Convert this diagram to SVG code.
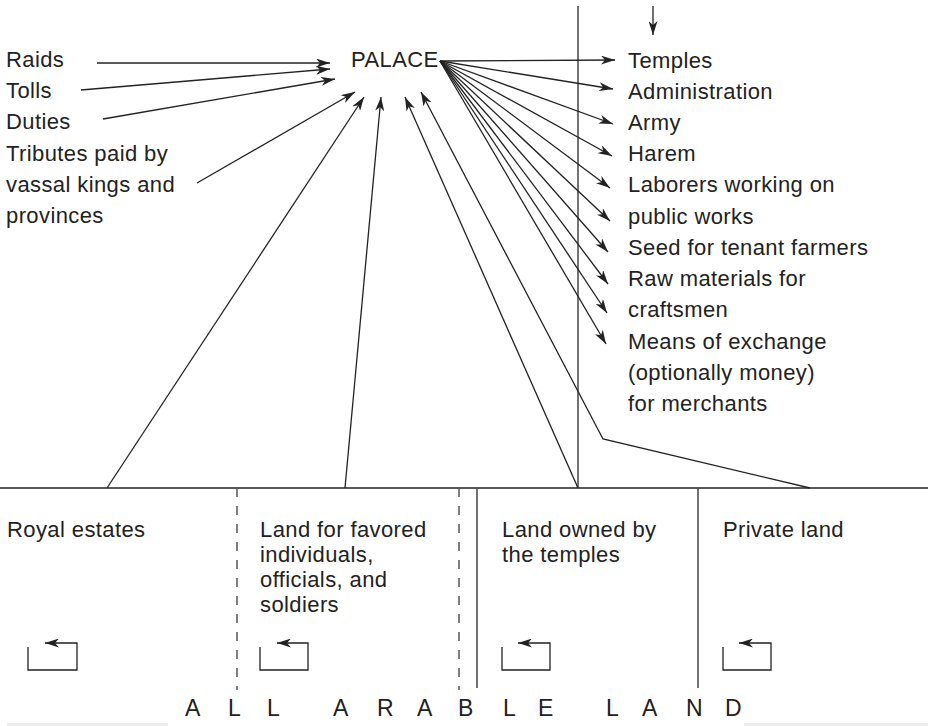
<svg xmlns="http://www.w3.org/2000/svg" width="928" height="726" viewBox="0 0 928 726">
<style>
text{font-family:"Liberation Sans",Arial,sans-serif;font-size:22px;fill:#222;letter-spacing:0.4px}
.ln{stroke:#222;stroke-width:1.3;fill:none}
.ar{marker-end:url(#ah)}
.dv{stroke:#444;stroke-width:1.5;fill:none}
.ds{stroke:#555;stroke-width:1.5;stroke-dasharray:9 9;fill:none}
.big{font-size:23px;letter-spacing:0}
</style>
<defs>
<marker id="ah" viewBox="0 0 14 9" markerWidth="14" markerHeight="9" refX="14" refY="4.5" orient="auto" markerUnits="userSpaceOnUse">
<path d="M0,0 L14,4.5 L0,9 L4,4.5 Z" fill="#222"/>
</marker>
</defs>
<rect width="928" height="726" fill="#fff"/>
<rect x="7" y="723" width="161" height="3" fill="#ececec"/>
<rect x="744" y="723" width="184" height="3" fill="#ececec"/>

<g id="frame">
<line class="dv" x1="578" y1="6" x2="578" y2="488"/>
<line class="ln" x1="0" y1="488" x2="928" y2="488"/>
<line class="ds" x1="237" y1="488" x2="237" y2="690"/>
<line class="ds" x1="459" y1="488" x2="459" y2="690"/>
<line class="dv" x1="477" y1="488" x2="477" y2="688"/>
<line class="dv" x1="698" y1="488" x2="698" y2="688"/>
</g>

<g id="palace"><text x="351" y="67">PALACE</text></g>

<g id="sources">
<text x="6" y="67">Raids</text>
<text x="6" y="98">Tolls</text>
<text x="6" y="129">Duties</text>
<text x="6" y="161">Tributes paid by</text>
<text x="6" y="192">vassal kings and</text>
<text x="6" y="223">provinces</text>
</g>

<g id="uses">
<text x="628" y="68">Temples</text>
<text x="628" y="99">Administration</text>
<text x="628" y="130">Army</text>
<text x="628" y="161">Harem</text>
<text x="628" y="192">Laborers working on</text>
<text x="628" y="224">public works</text>
<text x="628" y="255">Seed for tenant farmers</text>
<text x="628" y="286">Raw materials for</text>
<text x="628" y="317">craftsmen</text>
<text x="628" y="349">Means of exchange</text>
<text x="628" y="380">(optionally money)</text>
<text x="628" y="411">for merchants</text>
</g>

<g id="royal-estates">
<text x="7" y="537">Royal estates</text>
<path class="ln ar" d="M28,647 V670 H77 V643 H45"/>
</g>
<g id="favored-land">
<text x="260" y="537">Land for favored</text>
<text x="260" y="562">individuals,</text>
<text x="260" y="587">officials, and</text>
<text x="260" y="612">soldiers</text>
<path class="ln ar" d="M260,647 V670 H308 V643 H277"/>
</g>
<g id="temple-land">
<text x="502" y="537">Land owned by</text>
<text x="502" y="562">the temples</text>
<path class="ln ar" d="M502,647 V670 H550 V643 H518"/>
</g>
<g id="private-land">
<text x="723" y="537">Private land</text>
<path class="ln ar" d="M723,647 V670 H771 V643 H739"/>
</g>

<g id="all-arable-land">
<text class="big" x="185 228 267 300 333 377 417 458 503 538 575 606 642 686 725" y="716">ALL ARABLE LAND</text>
</g>

<g id="connectors">
<line class="ln ar" x1="653" y1="6" x2="653" y2="35"/>
<line class="ln ar" x1="97" y1="63" x2="330" y2="63"/>
<line class="ln ar" x1="81" y1="90" x2="330" y2="69"/>
<line class="ln ar" x1="103" y1="119" x2="335" y2="79"/>
<line class="ln ar" x1="197" y1="183" x2="355" y2="92"/>
<line class="ln ar" x1="107" y1="488" x2="364" y2="97"/>
<line class="ln ar" x1="345" y1="488" x2="381" y2="97"/>
<line class="ln ar" x1="578" y1="488" x2="405" y2="97"/>
<polyline class="ln ar" points="810,488 603,439 421,92"/>
<line class="ln ar" x1="440" y1="61" x2="615" y2="60"/>
<line class="ln ar" x1="440" y1="61" x2="613" y2="89"/>
<line class="ln ar" x1="440" y1="61" x2="613" y2="124"/>
<line class="ln ar" x1="440" y1="61" x2="612" y2="156"/>
<line class="ln ar" x1="440" y1="61" x2="610" y2="188"/>
<line class="ln ar" x1="440" y1="61" x2="610" y2="221"/>
<line class="ln ar" x1="440" y1="61" x2="608" y2="252"/>
<line class="ln ar" x1="440" y1="61" x2="608" y2="284"/>
<line class="ln ar" x1="440" y1="61" x2="607" y2="313"/>
<line class="ln ar" x1="440" y1="61" x2="606" y2="344"/>
</g>
</svg>
